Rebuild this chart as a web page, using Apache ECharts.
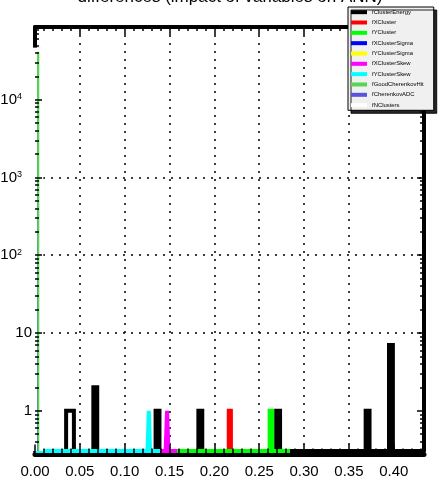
<!DOCTYPE html>
<html><head><meta charset="utf-8">
<script src="https://cdn.jsdelivr.net/npm/echarts@6/dist/echarts.min.js"></script>
<style>html,body{margin:0;padding:0;background:#fff;}#c{width:440px;height:477px;}</style>
</head><body><div id="c"></div>
<script>
// ---------------- data ----------------
const titleText = 'differences (impact of variables on ANN)';
const histNames = ['fClusterEnergy','fXCluster','fYCluster','fXClusterSigma','fYClusterSigma',
  'fXClusterSkew','fYClusterSkew','fGoodCherenkovHit','fCherenkovADC','fNClusters'];
const histColors = ['#000000','#ff0000','#00ff00','#0000ff','#ffff00','#ff00ff','#00ffff','#59d454','#5954d9','#ffffff'];
// histogram x-range end and number of bins
const histRanges = [0.4337, 0.2374, 0.2843, 0.120, 0.125, 0.1583, 0.1394, 0.0042, 0.0006, 0.0070];
const histNBins  = [100, 100, 100, 100, 100, 100, 100, 1, 1, 1];
// non-empty bins (index) and their contents
const histBinIdx = [[8,9,15,31,42,62,85,91],[91],[92],[],[],[93],[91],[0],[0],[0]];
const histBinCnt = [[1,1,2,1,1,1,1,7],[1],[1],[],[],[1],[1],[44000],[44000],[44000]];
const xTicks = [0,0.05,0.10,0.15,0.20,0.25,0.30,0.35,0.40];
const xTickLabels = ['0.00','0.05','0.10','0.15','0.20','0.25','0.30','0.35','0.40'];
const yTicks = [1,10,100,1000,10000];
const yTickLabels = ['1','10','10^2','10^3','10^4'];
const xMin = 0, xMax = 0.4337, yMin = 0.304, yMax = 86000;

// ---------------- build ----------------
const FONT = '"Liberation Sans", Arial, Helvetica, sans-serif';
function outline(h) {
  const nb = histNBins[h], w = histRanges[h] / nb;
  const vals = new Array(nb).fill(yMin);
  histBinIdx[h].forEach((b, k) => { vals[b] = histBinCnt[h][k]; });
  const pts = [[0, yMin]];
  for (let i = 0; i < nb; i++) { pts.push([i * w, vals[i]]); pts.push([(i + 1) * w, vals[i]]); }
  pts.push([histRanges[h], yMin]);
  return pts;
}
const xMinor = [];
for (let k = 1; k <= 43; k++) if (k % 5) xMinor.push(+(k * 0.01).toFixed(2));
const yMinor = [];
for (let e = -1; e <= 4; e++) for (let k = 2; k <= 9; k++) { const v = k * Math.pow(10, e); if (v > yMin && v < yMax) yMinor.push(v); }

function idxOf(arr, v) { return arr.findIndex(t => Math.abs(t - v) <= 1e-9 * Math.max(1, Math.abs(t))); }

const dotted = { type: [2, 6], color: '#000', width: 1.5 };
function tickAxis(isX, pos, values, len, offset) {
  return {
    type: isX ? 'value' : 'log', min: isX ? xMin : yMin, max: isX ? xMax : yMax,
    position: pos, offset: offset || 0, z: 6, silent: true,
    axisLine: { show: false, onZero: false }, axisLabel: { show: false }, splitLine: { show: false },
    axisTick: { show: true, inside: true, length: len, customValues: values, lineStyle: { color: '#000', width: 1.5 } }
  };
}

const xAxes = [
  { type: 'value', min: xMin, max: xMax, position: 'bottom', offset: 3.5, z: 1,
    axisLine: { show: true, onZero: false, lineStyle: { color: '#000', width: 5 } },
    axisTick: { show: true, length: 0, customValues: xTicks },
    axisLabel: { customValues: xTicks, margin: 9.5, fontSize: 15, color: '#000', fontFamily: FONT,
      formatter: v => { const i = idxOf(xTicks, v); return i >= 0 ? xTickLabels[i] : ''; } },
    splitLine: { show: true, lineStyle: dotted, showMinLine: false, showMaxLine: false } },
  { type: 'value', min: xMin, max: xMax, position: 'top', z: 1,
    axisLine: { show: true, onZero: false, lineStyle: { color: '#000', width: 4 } },
    axisTick: { show: false }, axisLabel: { show: false }, splitLine: { show: false } },
  tickAxis(true, 'bottom', xTicks, 10, 3.5),
  tickAxis(true, 'bottom', xMinor, 6, 3.5),
  tickAxis(true, 'top', xTicks, 8, 0),
  tickAxis(true, 'top', xMinor, 4, 0)
];
const yAxes = [
  { type: 'log', logBase: 10, min: yMin, max: yMax, position: 'left', z: 1,
    axisLine: { show: true, onZero: false, lineStyle: { color: '#000', width: 4 } },
    axisTick: { show: true, length: 0, customValues: yTicks },
    axisLabel: { customValues: yTicks, margin: 3, color: '#000',
      formatter: v => {
        const i = idxOf(yTicks, v); if (i < 0) return '';
        const s = yTickLabels[i];
        if (s.indexOf('^') >= 0) { const p = s.split('^'); return '{b|' + p[0] + '}{s|' + p[1] + '}'; }
        return '{b|' + s + '}';
      },
      rich: {
        b: { fontSize: 15, color: '#000', fontFamily: FONT },
        s: { fontSize: 9, color: '#000', fontFamily: FONT, padding: [0, 10, 6, 0] }
      } },
    splitLine: { show: true, lineStyle: dotted, showMinLine: false, showMaxLine: false } },
  { type: 'log', logBase: 10, min: yMin, max: yMax, position: 'right', z: 1,
    axisLine: { show: true, onZero: false, lineStyle: { color: '#000', width: 4 } },
    axisTick: { show: false }, axisLabel: { show: false }, splitLine: { show: false } },
  tickAxis(false, 'left', yTicks, 7, 0),
  tickAxis(false, 'left', yMinor, 4, 0),
  tickAxis(false, 'right', yTicks, 7, 0),
  tickAxis(false, 'right', yMinor, 4, 0)
];

const series = histNames.map((name, h) => ({
  name, type: 'line', xAxisIndex: 0, yAxisIndex: 0, data: outline(h),
  showSymbol: false, symbol: 'none', animation: false, silent: true, z: 2,
  lineStyle: { color: histColors[h], width: 4, join: 'miter', cap: 'butt' },
  itemStyle: { color: histColors[h] },
  emphasis: { disabled: true }
}));

const chart = echarts.init(document.getElementById('c'), null, { renderer: 'canvas' });
chart.setOption({
  backgroundColor: '#ffffff',
  animation: false,
  title: { text: titleText, left: 230, top: -11, textAlign: 'center', padding: 0,
    textStyle: { fontSize: 17, fontWeight: 'normal', color: '#000', fontFamily: FONT } },
  legend: {
    data: histNames, orient: 'vertical', left: 348, top: 7, z: 20, selectedMode: false,
    icon: 'rect', itemWidth: 16, itemHeight: 4, itemGap: 0,
    padding: [0, 10, 0, 3], backgroundColor: '#f0f0f0', borderColor: '#000', borderWidth: 1,
    shadowColor: 'rgba(0,0,0,0.85)', shadowBlur: 0, shadowOffsetX: 3, shadowOffsetY: 3,
    textStyle: { fontSize: 5.9, lineHeight: 10.33, color: '#000', fontFamily: FONT }
  },
  grid: { left: 35, right: 16, top: 27, bottom: 26, containLabel: false, outerBoundsMode: 'none' },
  xAxis: xAxes,
  yAxis: yAxes,
  series: series
});
</script></body></html>
